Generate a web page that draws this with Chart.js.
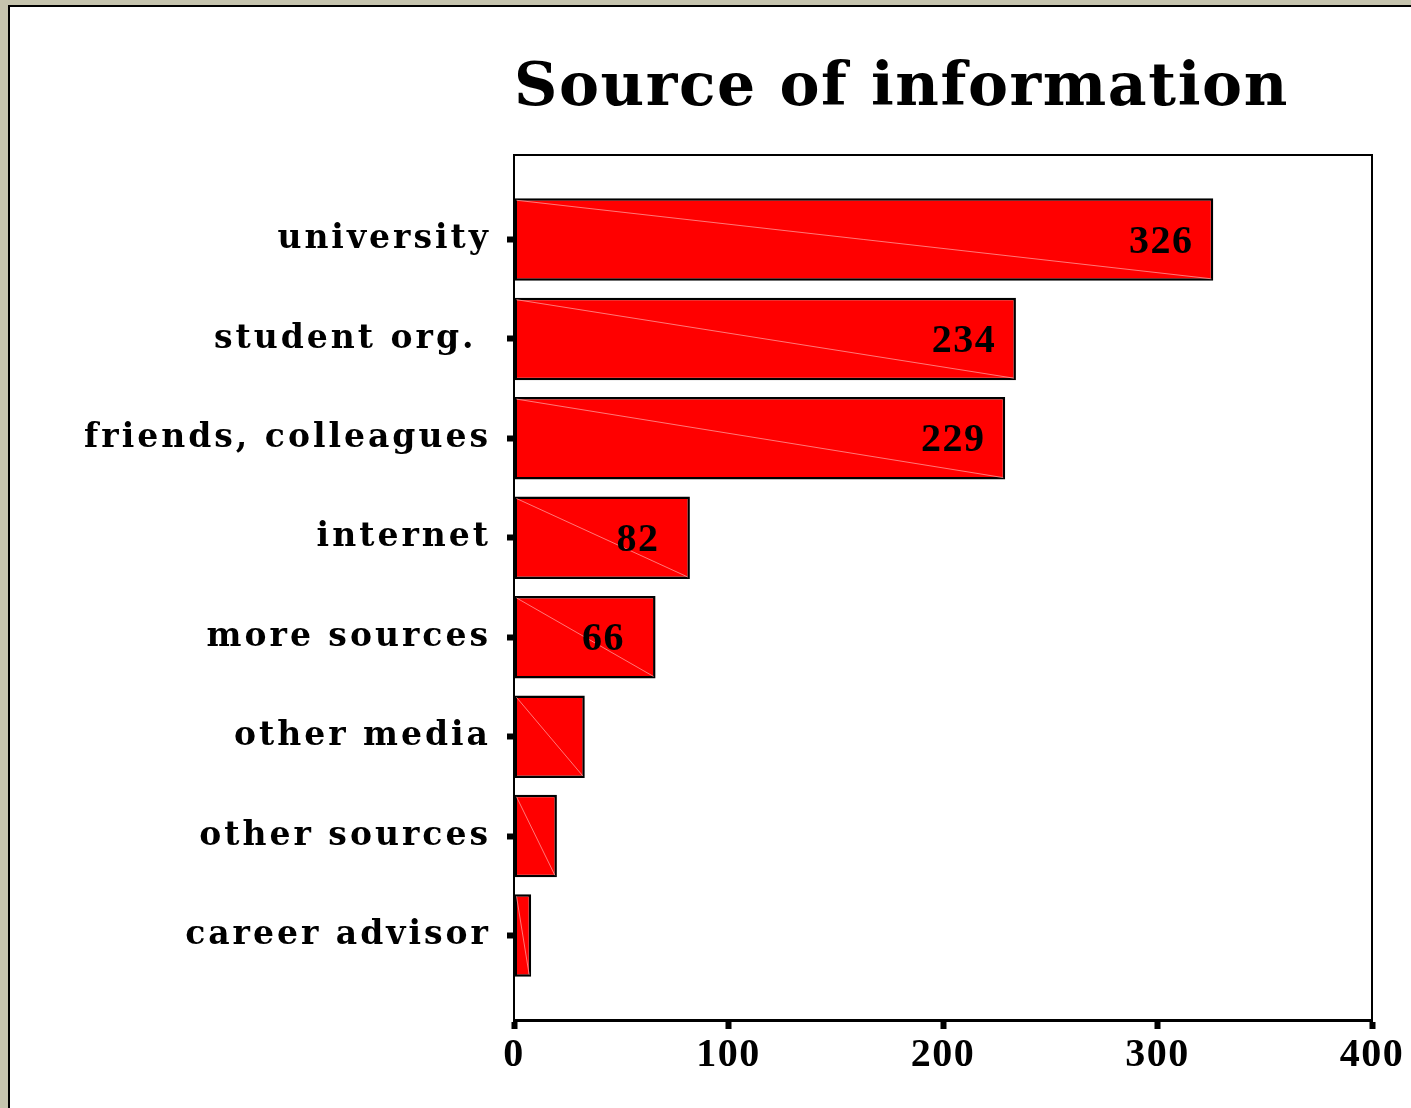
<!DOCTYPE html>
<html>
<head>
<meta charset="utf-8">
<script src="https://cdn.jsdelivr.net/npm/chart.js@4/dist/chart.umd.min.js"></script>
<style>
  html, body { margin: 0; padding: 0; background: #c6c4ae; overflow: hidden; }
  #panel {
    position: absolute; left: 8px; top: 5px; right: 0; bottom: 0;
    background: #ffffff; border-left: 2px solid #000; border-top: 2px solid #000;
  }
  #chart { display: block; }
</style>
</head>
<body>
<div id="panel"><canvas id="chart" width="1401" height="1101"></canvas></div>
<script>
// Data
const categories = ['university', 'student org. ', 'friends, colleagues', 'internet',
    'more sources', 'other media', 'other sources', 'career advisor'];
const counts = [326, 234, 229, 82, 66, 33, 20, 8];
const xTicks = [0, 100, 200, 300, 400];
const titleText = 'Source of information';

// Frame around the plot, diagonal lines in bars, value labels, title
const decorPlugin = {
    id: 'decor',
    beforeDraw(chart) {
        chart.ctx.letterSpacing = '3px';   // category labels
    },
    beforeDatasetsDraw(chart) {
        chart.ctx.letterSpacing = '1.5px';   // x tick numbers
    },
    afterDatasetsDraw(chart) {
        const ctx = chart.ctx;
        const bars = chart.getDatasetMeta(0).data;
        ctx.save();
        // thin light diagonal inside every bar
        bars.forEach(bar => {
            const p = bar.getProps(['x', 'y', 'base', 'height'], true);
            ctx.strokeStyle = 'rgba(255,150,150,0.8)';
            ctx.lineWidth = 1;
            ctx.beginPath();
            ctx.moveTo(p.base + 2, p.y - p.height / 2 + 2);
            ctx.lineTo(p.x - 2, p.y + p.height / 2 - 2);
            ctx.stroke();
        });
        // value labels on the larger bars
        ctx.letterSpacing = '1.5px';
        ctx.fillStyle = '#000';
        ctx.font = 'bold 40px "Liberation Serif"';
        ctx.textAlign = 'center';
        ctx.textBaseline = 'alphabetic';
        bars.forEach((bar, i) => {
            if (counts[i] < 50) return;
            const p = bar.getProps(['x', 'y'], true);
            ctx.fillText(String(counts[i]), p.x - 52, p.y + 13);
        });
        ctx.restore();
    },
    afterDraw(chart) {
        const ctx = chart.ctx;
        const a = chart.chartArea;
        ctx.save();
        ctx.strokeStyle = '#000';
        ctx.lineWidth = 2;
        ctx.strokeRect(a.left, a.top, a.right - a.left, a.bottom - a.top);
        ctx.letterSpacing = '1.6px';
        ctx.fillStyle = '#000';
        ctx.font = 'bold 60px "DejaVu Serif"';
        ctx.textAlign = 'left';
        ctx.textBaseline = 'alphabetic';
        ctx.fillText(titleText, a.left, a.top - 50);
        ctx.restore();
    }
};

new Chart(document.getElementById('chart'), {
    type: 'bar',
    data: {
        datasets: [{
            data: counts.map((v, i) => ({ x: v, y: i })),
            backgroundColor: '#ff0000',
            borderColor: '#000000',
            borderWidth: 2.5,
            borderSkipped: false,
            barPercentage: 0.83,
            categoryPercentage: 1
        }]
    },
    options: {
        indexAxis: 'y',
        responsive: false,
        animation: false,
        devicePixelRatio: 1,
        layout: { padding: { top: 148, right: 39, left: 0, bottom: 0 } },
        plugins: {
            legend: { display: false },
            title: { display: false },
            tooltip: { enabled: false }
        },
        scales: {
            x: {
                type: 'linear',
                min: 0,
                max: 400,
                afterBuildTicks: scale => { scale.ticks = xTicks.map(v => ({ value: v })); },
                afterFit: scale => { scale.height = 88; },
                border: { display: true, color: '#000', width: 3 },
                grid: { drawOnChartArea: false, color: '#000', tickLength: 9, tickWidth: 6 },
                ticks: {
                    z: 1,
                    color: '#000',
                    autoSkip: false,
                    maxRotation: 0,
                    padding: 3,
                    font: { family: '"Liberation Serif"', size: 40, weight: 'bold' }
                }
            },
            y: {
                type: 'linear',
                reverse: true,
                offset: false,
                bounds: 'data',
                min: -0.85,
                max: 7.85,
                afterBuildTicks: scale => { scale.ticks = categories.map((c, i) => ({ value: i })); },
                afterFit: scale => { scale.width = 504; },
                border: { display: true, color: '#000', width: 2 },
                grid: { offset: false, drawOnChartArea: false, color: '#000', tickLength: 7, tickWidth: 6 },
                ticks: {
                    color: '#000',
                    autoSkip: false,
                    padding: 16,
                    callback: v => categories[v] !== undefined ? categories[v] : '',
                    font: { family: '"DejaVu Serif"', size: 33, weight: 'bold' }
                }
            }
        }
    },
    plugins: [decorPlugin]
});
</script>
</body>
</html>
